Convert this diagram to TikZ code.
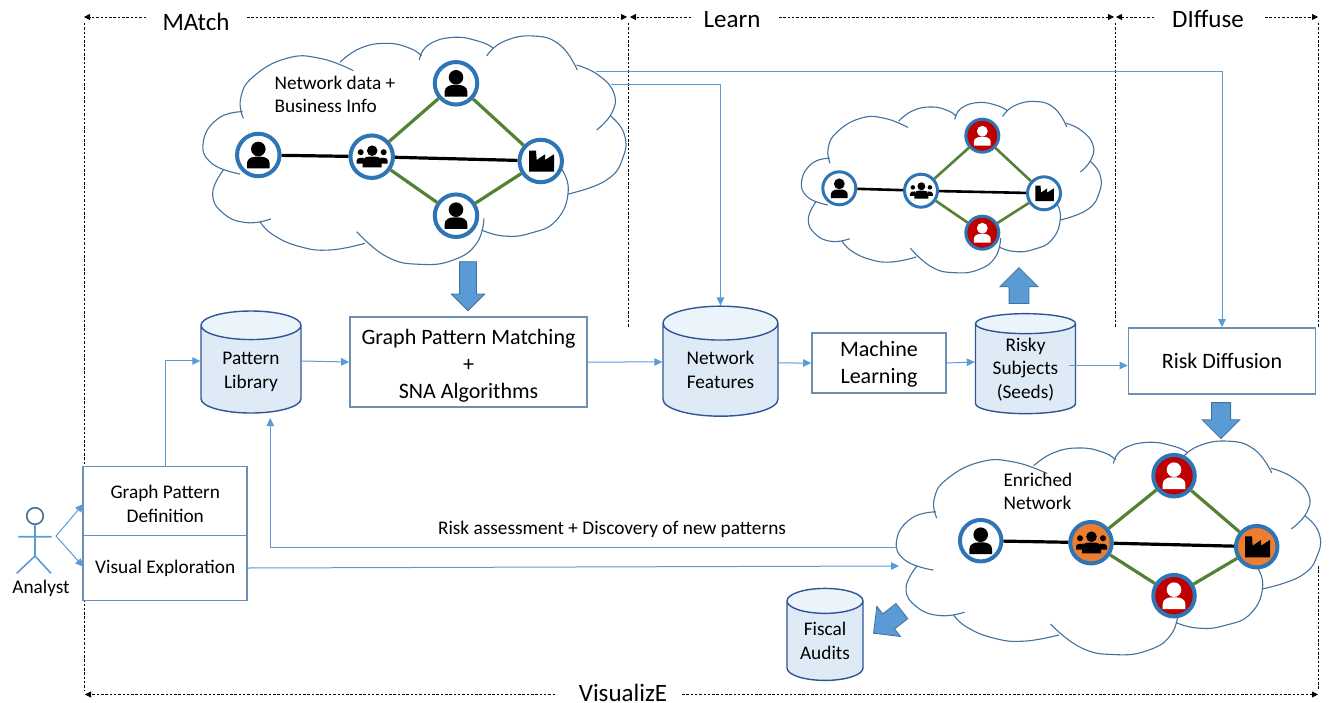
\documentclass[tikz,border=0pt]{standalone}
\usepackage{fontspec}
\setmainfont{Carlito}
\usetikzlibrary{shapes,shapes.geometric,arrows.meta}

\definecolor{ringblue}{HTML}{2E75B6}
\definecolor{edgegreen}{HTML}{548235}
\definecolor{riskred}{HTML}{C00000}
\definecolor{hubcolor}{HTML}{ED7D31}
\definecolor{flowblue}{HTML}{5B9BD5}
\definecolor{boxline}{HTML}{6C8FB6}
\definecolor{cloudline}{HTML}{41719C}
\definecolor{dbline}{HTML}{2F5597}
\definecolor{dbbody}{HTML}{DEEBF7}
\definecolor{dbtop}{HTML}{EBF3FB}

\tikzset{
	procbox/.style={draw=boxline, line width=1.8, fill=white, align=center, inner sep=0},
	bigtext/.style={font=\fontsize{22}{27}\selectfont},
	smalltext/.style={font=\fontsize{19.3}{23.5}\selectfont},
	phasetext/.style={font=\fontsize{25}{27}\selectfont, inner sep=0},
	database/.style={cylinder, shape border rotate=90, aspect=.5, draw=dbline, line width=1.4,
		cylinder uses custom fill, cylinder body fill=dbbody, cylinder end fill=dbtop,
		align=center, inner sep=0, smalltext},
	flow/.style={draw=flowblue, line width=1, -{Triangle[length=8pt,width=7.5pt]}},
	phase/.style={black, line width=.8, dash pattern=on 2.5pt off 1.8pt},
	phasearrow/.style={phase, -{Triangle[length=6pt,width=6pt]}},
	bigarrow/.style={single arrow, draw=cloudline, fill=flowblue, line width=.8, inner xsep=0,
		single arrow tip angle=90, single arrow head indent=0},
	netnode/.style={circle, draw=ringblue, line width=#1, inner sep=0},
	greenedge/.style={edgegreen, line width=#1},
	blackedge/.style={black, line width=#1},
	pics/netcloud/.style={code={
		\draw [cloudline, line width=1.1, x=.3333pt, y=-.3333pt, smooth, tension=.8]
			plot coordinates {(160,265) (152,205) (190,140) (290,85) (390,85) (490,122)}
			plot coordinates {(450,97) (510,55) (590,40) (660,55) (695,78)}
			plot coordinates {(688,90) (715,45) (790,22) (870,35) (910,55)}
			plot coordinates {(890,78) (940,35) (1030,18) (1110,45) (1162,120)}
			plot coordinates {(1160,105) (1225,135) (1272,190) (1265,250) (1220,300)}
			plot coordinates {(1262,258) (1302,310) (1300,380) (1250,450) (1135,492)}
			plot coordinates {(1110,410) (1135,480) (1100,570) (1020,610) (940,618) (875,600)}
			plot coordinates {(882,565) (860,640) (790,690) (690,703) (590,680) (500,605)}
			plot coordinates {(525,640) (420,660) (330,650) (250,615) (210,575)}
			plot coordinates {(243,567) (170,578) (100,550) (68,490) (100,420)}
			plot coordinates {(158,245) (85,265) (40,335) (65,400) (150,432)};
	}},
	pics/personicon/.style={code={
		\fill [#1] (0,-6) circle (7.3);
		\fill [#1] (-11.3,13.3) -- (-11.3,8) .. controls (-11.3,3.5) and (-6,1.7) .. (-3,1.7) -- (3,1.7)
			.. controls (6,1.7) and (11.3,3.5) .. (11.3,8) -- (11.3,13.3) -- cycle;
	}},
	pics/groupicon/.style={code={
		\fill [#1] (.5,-6) circle (5.3);
		\fill [#1] (-11,-4.5) circle (3) (12,-4.5) circle (3);
		\fill [#1] (-15,7) -- (-15,4) .. controls (-15,1) and (-11,1) .. (-8,1) -- (-8,7) -- cycle;
		\fill [#1] (16,7) -- (16,4) .. controls (16,1) and (12,1) .. (9,1) -- (9,7) -- cycle;
		\fill [#1] (-9,10.7) -- (-9,5) .. controls (-9,1) and (-5,0) .. (-3,0) -- (4,0)
			.. controls (6,0) and (10,1) .. (10,5) -- (10,10.7) -- cycle;
	}},
	pics/factoryicon/.style={code={
		\fill [#1] (-11.7,-10.3) -- (-4.7,-10.3) -- (-4,-1) -- (4.3,-6.7) -- (4.3,-1) -- (13.3,-6.7)
			-- (13.3,10.7) -- (-11.7,10.7) -- cycle;
	}},
}

\begin{document}
\begin{tikzpicture}[x=1pt, y=-1pt, >={Triangle[length=8pt,width=7.5pt]}]
\useasboundingbox (0,0) rectangle (1329,703);

%fases
\coordinate (tl) at (84,17);
\coordinate (tlv) at (84,23);
\coordinate (bl) at (84,690);
\coordinate (m1) at (146,17);
\coordinate (m2) at (247,17);
\coordinate (m3) at (627,17);
\coordinate (l0) at (630,17);
\coordinate (l1) at (691,17);
\coordinate (l2) at (779,17);
\coordinate (l3) at (1114,17);
\coordinate (d0) at (1116,17);
\coordinate (d1) at (1154,17);
\coordinate (d2) at (1265,17);
\coordinate (d3) at (1318,17);
\draw [phase] (tlv) -- (bl);
\draw [phase] (628,23) coordinate (v1a) -- (628,327) coordinate (v1b);
\draw [phase] (1115,23) coordinate (v2a) -- (1115,327) coordinate (v2b);
\draw [phase] (1318.5,23) coordinate (v3a) -- (1318.5,327) coordinate (v3b);
\draw [phase] (1318.5,566) coordinate (v4a) -- (1318.5,690) coordinate (v4b);
\draw [phasearrow] (m1) -- (tl);
\draw [phasearrow] (m2) -- (m3);
\draw [phasearrow] (l1) -- (l0);
\draw [phasearrow] (l2) -- (l3);
\draw [phasearrow] (d1) -- (d0);
\draw [phasearrow] (d2) -- (d3);
\draw [phasearrow] (555,694.5) coordinate (b1) -- (85,694.5) coordinate (b0);
\draw [phasearrow] (682,694.5) coordinate (b2) -- (1318,694.5) coordinate (b3);
\node [phasetext] (matchlabel) at (196,22) {MAtch};
\node [phasetext] (learnlabel) at (732,20) {Learn};
\node [phasetext] (difflabel) at (1208,19) {DIffuse};
\node [phasetext] (vislabel) at (623,692.5) {VisualizE};

%nubes
\pic at (190,30) {netcloud};
\pic [xscale=.709, yscale=.75] at (792.2,97) {netcloud};
\pic [xscale=1.003, yscale=.935] at (883.3,435.5) {netcloud};

%cajas
\node [procbox, bigtext, minimum width=237, minimum height=90] (matching) at (468.5,362)
	{\rule{0pt}{22pt}Graph Pattern Matching\\+\\SNA Algorithms};
\node [procbox, bigtext, minimum width=134, minimum height=60] (mlearn) at (879,363) {\rule{0pt}{18pt}Machine\\Learning};
\node [procbox, bigtext, minimum width=187, minimum height=66] (riskdiff) at (1222,361) {Risk Diffusion};
\node [procbox, smalltext, minimum width=164, minimum height=69] (patterndef) at (165.3,501) {\rule{0pt}{19pt}Graph Pattern\\Definition};
\node [procbox, smalltext, minimum width=164, minimum height=65] (visualexp) at (165.3,568) {Visual Exploration};

\node [database, minimum width=100, minimum height=102] (patternlib) at (251,369.5) {\rule{0pt}{17pt}Pattern\\Library};
\node [database, minimum width=115, minimum height=110] (features) at (720.5,370) {Network\\Features};
\node [database, minimum width=100, minimum height=100] (risky) at (1025.5,369) {\phantom{Risky}};
\node [smalltext, align=center, inner sep=0] (riskylabel) at (1025.5,369.5) {Risky\\Subjects\\(Seeds)};
\node [database, minimum width=76, minimum height=92] (audits) at (825,641) {Fiscal\\Audits};

%flechas grandes
\node [bigarrow, rotate=-90, inner ysep=8, minimum height=49, single arrow head extend=8.3] (arrowmatch) at (468,282) {};
\node [bigarrow, rotate=90, inner ysep=9.5, minimum height=35.7, single arrow head extend=9.2] (arrowseed) at (1019,290.5) {};
\node [bigarrow, rotate=-90, inner ysep=9.2, minimum height=36, single arrow head extend=9.2] (arrowdiff) at (1221,415.8) {};
\node [bigarrow, rotate=218, inner ysep=9.2, minimum height=36, single arrow head extend=9.6] (arrowaudit) at (891.5,619.2) {};

%red 1
\node [netnode=4, fill=white, minimum size=42.5] (a1) at (258.3,155) {};
\node [netnode=4, fill=white, minimum size=42.5] (a2) at (371.7,156.7) {};
\node [netnode=4, fill=white, minimum size=42.5] (a3) at (456,83.3) {};
\node [netnode=4, fill=white, minimum size=42.5] (a4) at (456,215.7) {};
\node [netnode=4, fill=white, minimum size=42.5] (a5) at (540.7,161) {};
\draw [blackedge=3.2] (a1) -- (a2);
\draw [blackedge=3.2] (a2) -- (a5);
\draw [greenedge=3.2] (a2) -- (a3);
\draw [greenedge=3.2] (a2) -- (a4);
\draw [greenedge=3.2] (a3) -- (a5);
\draw [greenedge=3.2] (a4) -- (a5);
\pic at (a1) {personicon=black};
\pic at (a2) {groupicon=black};
\pic at (a3) {personicon=black};
\pic at (a4) {personicon=black};
\pic at (a5) {factoryicon=black};
\node [smalltext, align=left, anchor=west] (netdata) at (271,94.5) {Network data +\\Business Info};

%red 2
\node [netnode=3, fill=white, minimum size=33] (b1n) at (839.3,188.3) {};
\node [netnode=3, fill=white, minimum size=33] (b2n) at (921,190.7) {};
\node [netnode=3, fill=riskred, minimum size=33] (b3n) at (982.3,135.7) {};
\node [netnode=3, fill=riskred, minimum size=33] (b4n) at (982.3,232.7) {};
\node [netnode=3, fill=white, minimum size=33] (b5n) at (1044,193.3) {};
\draw [blackedge=2.6] (b1n) -- (b2n);
\draw [blackedge=2.6] (b2n) -- (b5n);
\draw [greenedge=2.6] (b2n) -- (b3n);
\draw [greenedge=2.6] (b2n) -- (b4n);
\draw [greenedge=2.6] (b3n) -- (b5n);
\draw [greenedge=2.6] (b4n) -- (b5n);
\pic [scale=.74] at (b1n) {personicon=black};
\pic [scale=.74] at (b2n) {groupicon=black};
\pic [scale=.74] at (b3n) {personicon=white};
\pic [scale=.74] at (b4n) {personicon=white};
\pic [scale=.74] at (b5n) {factoryicon=black};

%red 3
\node [netnode=4, fill=white, minimum size=41.5] (c1) at (980.7,540.7) {};
\node [netnode=4, fill=hubcolor, minimum size=41.5] (c2) at (1091,542.7) {};
\node [netnode=4, fill=riskred, minimum size=41.5] (c3) at (1174,475.7) {};
\node [netnode=4, fill=riskred, minimum size=41.5] (c4) at (1174,595.7) {};
\node [netnode=4, fill=hubcolor, minimum size=41.5] (c5) at (1256.7,546.7) {};
\draw [blackedge=3.2] (c1) -- (c2);
\draw [blackedge=3.2] (c2) -- (c5);
\draw [greenedge=3.2] (c2) -- (c3);
\draw [greenedge=3.2] (c2) -- (c4);
\draw [greenedge=3.2] (c3) -- (c5);
\draw [greenedge=3.2] (c4) -- (c5);
\pic at (c1) {personicon=black};
\pic at (c2) {groupicon=black};
\pic at (c3) {personicon=white};
\pic at (c4) {personicon=white};
\pic at (c5) {factoryicon=black};
\node [smalltext, align=left, anchor=west] (enriched) at (1000,491.5) {Enriched\\Network};

%analista
\coordinate (analyst) at (56,536);
\draw [cloudline, line width=1.6] (35,516) circle (8.3);
\draw [flowblue, line width=1.6] (35,524.3) -- (35,556) (18.3,536.7) -- (51.7,536.7)
	(16.7,573.3) -- (35,556) -- (51,573.3);
\node [smalltext] (analystlabel) at (41,588) {Analyst};

%lineas
\coordinate (libin) at (270.3,418);
\coordinate (cloudback) at (897,547.5);
\coordinate (cloudin) at (899,566);
\coordinate (cloudf) at (611,85);
\coordinate (cloudr) at (596,71.5);
\coordinate (seedout) at (1069,365.5);
\draw [flow] (analyst) -- (83.3,504);
\draw [flow] (analyst) -- (83.3,566.7);
\draw [flow] (patterndef.north) |- ([yshift=8.5pt]patternlib.west);
\draw [flow] ([yshift=8.5pt]patternlib.east) -- (matching.west);
\draw [flow] (matching.east) -- ([yshift=8pt]features.west);
\draw [flow] ([yshift=7pt]features.east) -- (mlearn.west);
\draw [flow] (mlearn.east) -- ([yshift=7pt]risky.west);
\draw [flow] (seedout) -- (riskdiff.west |- seedout);
\draw [flow] (cloudf) -| (features.north);
\draw [flow] (cloudr) -| (riskdiff.north);
\draw [flow] (cloudback) -| (libin);
\draw [flow] (visualexp.east) -- (cloudin);
\node [smalltext] (risklabel) at (612,529) {Risk assessment + Discovery of new patterns};

\end{tikzpicture}
\end{document}
